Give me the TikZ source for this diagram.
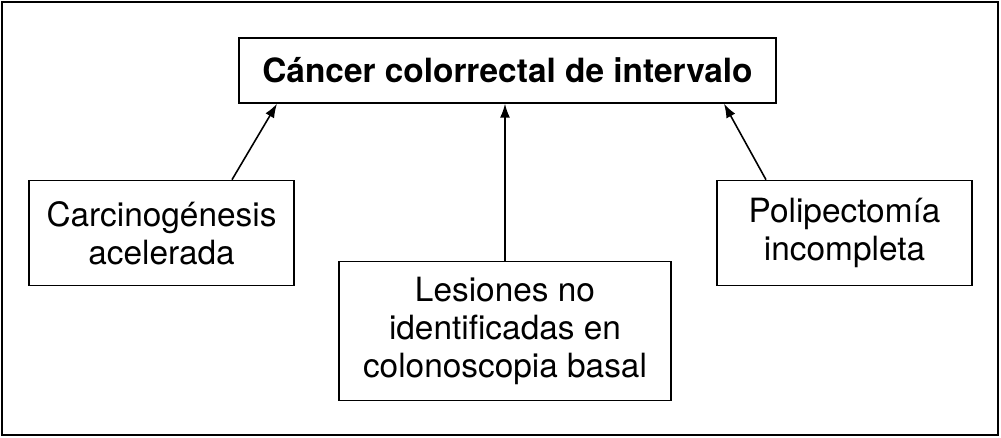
\documentclass[tikz,border=0pt]{standalone}
\usepackage{fontspec}
\setmainfont{TeX Gyre Heros}
\usepackage{tikz}
\usetikzlibrary{arrows.meta, positioning}

\begin{document}
\begin{tikzpicture}[
  box/.style={rectangle, draw, line width=0.8pt, align=center, inner sep=2pt, font=\fontsize{19}{21.5}\selectfont},
  link/.style={-{Latex[length=2.8mm, width=2mm]}, line width=0.9pt}
]
  \useasboundingbox (-10.15,1.41) rectangle (9.87,-7.33);
  \draw[line width=1.3pt] (-10.11,1.37) rectangle (9.81,-7.29);
  \node[box, minimum width=10.74cm, minimum height=1.3cm, font=\fontsize{19}{21.5}\selectfont\bfseries] (cancer) {Cáncer colorrectal de intervalo};
  \node[box, minimum width=5.3cm, minimum height=2.1cm, below=1.52cm of cancer, xshift=-6.92cm] (carcino) {Carcinogénesis\\acelerada};
  \node[box, minimum width=6.64cm, minimum height=2.78cm, below=3.14cm of cancer, xshift=-0.05cm] (lesiones) {Lesiones no\\identificadas en\\colonoscopia basal};
  \node[box, minimum width=5.1cm, minimum height=2.1cm, below=1.52cm of cancer, xshift=6.74cm] (polip) {Polipectomía\\incompleta};
  \draw[link] ([xshift=1.41cm]carcino.north) -- ([xshift=-4.61cm]cancer.south);
  \draw[link] (lesiones.north) -- (lesiones.north |- cancer.south);
  \draw[link] ([xshift=-1.57cm]polip.north) -- ([xshift=4.33cm]cancer.south);
\end{tikzpicture}
\end{document}
